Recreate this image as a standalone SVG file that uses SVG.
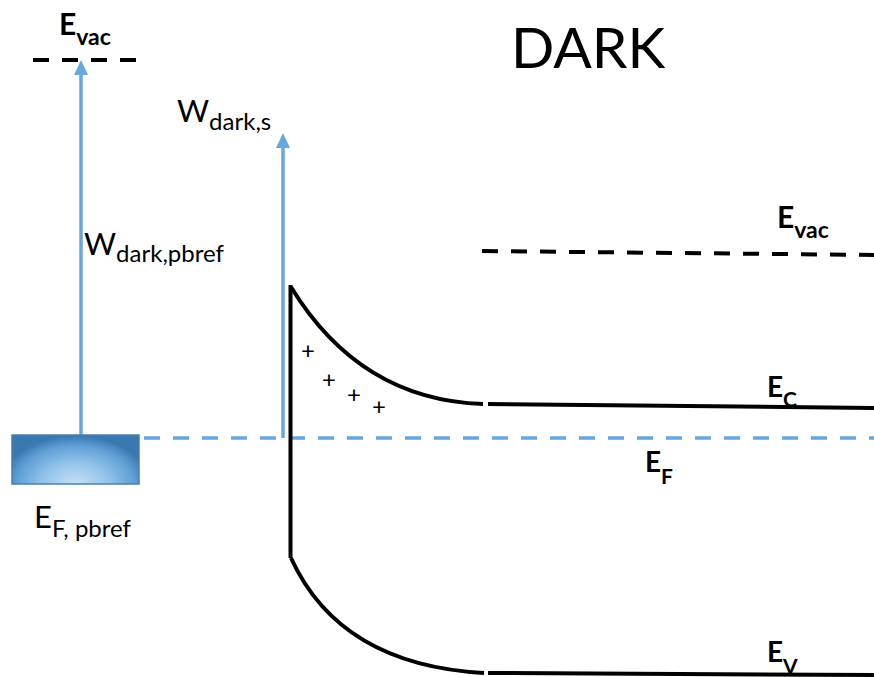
<svg xmlns="http://www.w3.org/2000/svg" width="874" height="677" viewBox="0 0 874 677">
<style>
text{font-family:Lato,"Open Sans","Liberation Sans",sans-serif;fill:#000}
.b{font-weight:bold}
.blk{stroke:#000;stroke-width:4;fill:none}
.bd{stroke:#000;stroke-width:4;fill:none;stroke-dasharray:16 13}
.blu{stroke:#67a7de;stroke-width:3.5;fill:none}
.bdash{stroke:#67a7de;stroke-width:3.5;fill:none;stroke-dasharray:16 13}
.tip{fill:#67a7de}
</style>
<defs>
<radialGradient id="g" cx="0.5" cy="1" r="0.58" gradientTransform="translate(0.5 1) scale(1 1.7) translate(-0.5 -1)">
<stop offset="0" stop-color="#c6e0f4"/>
<stop offset="0.45" stop-color="#92c3ea"/>
<stop offset="0.8" stop-color="#5f9ed5"/>
<stop offset="1" stop-color="#3a78b2"/>
</radialGradient>
</defs>
<text x="511" y="68" font-size="57">DARK</text>
<g id="connectors">
<path class="bd" d="M33,60 H137"/>
<path class="bd" d="M482,251 L874,255"/>
<path class="bdash" d="M144,438 H874"/>
<path class="blu" d="M81,435 V74"/>
<path class="tip" d="M74,75 L81,60 L88,75 Z"/>
<path class="blu" d="M283,438 V148"/>
<path class="tip" d="M276,148 L283,133 L290,148 Z"/>
</g>
<g id="ref-electrode">
<rect x="12" y="435" width="127" height="49" fill="url(#g)" stroke="#4a7fae" stroke-width="1.5"/>
</g>
<g id="semiconductor">
<path class="blk" d="M290.5,285 V558"/>
<path class="blk" d="M291,287 Q360,400 483,404"/>
<path class="blk" d="M488,404 L874,408"/>
<path class="blk" d="M291,558 Q340,665 484,673"/>
<path class="blk" d="M488,673 L874,675"/>
</g>
<g id="charges" font-size="24">
<text x="308" y="359" text-anchor="middle">+</text>
<text x="329" y="388" text-anchor="middle">+</text>
<text x="354" y="403" text-anchor="middle">+</text>
<text x="379" y="415" text-anchor="middle">+</text>
</g>
<g id="labels">
<text class="b" x="59" y="35" font-size="30">E<tspan font-size="23" dy="10">vac</tspan></text>
<text class="b" x="777" y="228" font-size="30">E<tspan font-size="23" dy="10">vac</tspan></text>
<text class="b" x="767" y="397" font-size="28">E<tspan font-size="21" dy="10">C</tspan></text>
<text class="b" x="645" y="472" font-size="28">E<tspan font-size="21" dy="12">F</tspan></text>
<text class="b" x="767" y="662" font-size="28">E<tspan font-size="21" dy="12">V</tspan></text>
<text x="84" y="255" font-size="31">W<tspan font-size="24" dy="7">dark,pbref</tspan></text>
<text x="177" y="122" font-size="31">W<tspan font-size="24" dy="8">dark,s</tspan></text>
<text x="34" y="528" font-size="31">E<tspan font-size="24" dy="9">F, pbref</tspan></text>
</g>
</svg>
